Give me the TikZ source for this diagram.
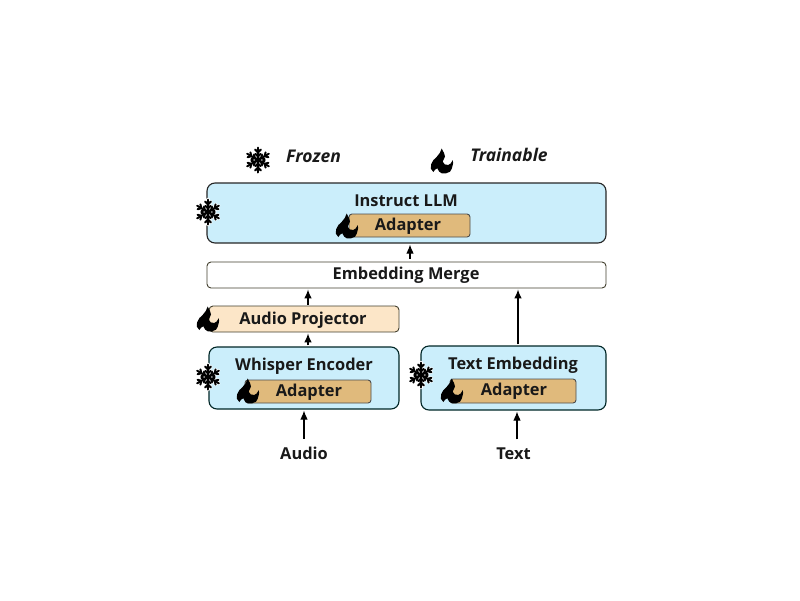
\documentclass[tikz,border=0pt]{standalone}
\usepackage{fontspec}
\setmainfont{Open Sans}
\usetikzlibrary{arrows.meta}
\definecolor{iceblue}{HTML}{CBEEFB}
\definecolor{adaptertan}{HTML}{E0BA7C}
\definecolor{peach}{HTML}{FCE6C8}
\tikzset{
  panel/.style={draw=#1, line width=1.1pt, rounded corners=8pt, inner sep=0pt, minimum width=0pt},
  llmbox/.style={panel=black!85, fill=iceblue},
  bluebox/.style={panel=black!70!teal, fill=iceblue},
  adapterbox/.style={draw=black!70, line width=0.9pt, fill=adaptertan, rounded corners=3pt, inner sep=0pt},
  mergebox/.style={draw=black!70!olive, line width=0.9pt, fill=white, rounded corners=4pt, inner sep=0pt},
  projbox/.style={draw=black!70!olive, line width=0.9pt, fill=peach, rounded corners=4pt, inner sep=0pt},
  lbl/.style={font=\fontsize{16.4}{18}\selectfont\bfseries, text=black!90, inner sep=0pt},
  legendlbl/.style={font=\fontsize{17.5}{18}\selectfont\bfseries\itshape, text=black!90, inner sep=0pt},
  flow/.style={-{Latex[length=9pt,width=7.5pt]}, line width=1.1pt, black},
  pics/snowflake/.style={code={
    \foreach \w/\c in {3.4/white,2/black}{
    \foreach \a in {30,90,...,330}{
      \begin{scope}[rotate=\a]
        \draw[line width=\w pt, \c, line cap=round] (0,0) -- (12.5,0);
        \draw[line width=\w pt, \c, line cap=round, line join=round] (6.2,-2.6) -- (3.5,0) -- (6.2,2.6);
        \draw[line width=\w pt, \c, line cap=round, line join=round] (10.4,-2.8) -- (7.6,0) -- (10.4,2.8);
      \end{scope}
    }}
    \fill[black] (0,0) circle (3);
  }},
  pics/flame/.style={code={
    \fill[black]
      (-0.3,-12.5) .. controls (1,-9) and (3.5,-7) .. (3,-4.3)
      .. controls (2.7,-2) and (0.5,-1) .. (0.7,0.7)
      .. controls (1,3) and (4,4.5) .. (6.3,4)
      .. controls (8,3.5) and (9.5,2) .. (10.7,-0.8)
      .. controls (11.5,1) and (11,3) .. (10.7,4)
      .. controls (10.3,6.5) and (9.5,9) .. (8,10.7)
      .. controls (5.5,12.5) and (2,13) .. (-0.3,12.3)
      .. controls (-2.5,11.5) and (-3.5,10) .. (-4.7,7.3)
      .. controls (-6,7.5) and (-7.5,9) .. (-8.7,11)
      .. controls (-11,9.5) and (-11.8,6.5) .. (-11,3.5)
      .. controls (-10.2,0) and (-7.5,-2) .. (-5,-4.5)
      .. controls (-3,-6.5) and (-1,-9.5) .. (-0.3,-12.5) -- cycle;
  }},
}
\begin{document}
\begin{tikzpicture}[x=1pt,y=-1pt]
\useasboundingbox (0,0) rectangle (800,600);
% boxes
\node[llmbox, minimum width=399pt, minimum height=60pt] (llm) at (406.5,213) {};
\node[adapterbox, minimum width=121pt, minimum height=23pt] (llmad) at (409.5,225.5) {};
\node[mergebox, minimum width=399pt, minimum height=26pt] (merge) at (406.5,275) {};
\node[projbox, minimum width=190pt, minimum height=26pt] (proj) at (304,319) {};
\node[bluebox, minimum width=190pt, minimum height=62pt] (whisper) at (304,378) {};
\node[adapterbox, minimum width=126pt, minimum height=23pt] (whad) at (308,391.5) {};
\node[bluebox, minimum width=185pt, minimum height=64pt] (textemb) at (513.5,378) {};
\node[adapterbox, minimum width=126pt, minimum height=24pt] (txad) at (513,391) {};
% labels
\node[lbl] (llmt) at (406,201) {Instruct LLM};
\node[lbl] (llmadt) at (408,226.5) {Adapter};
\node[lbl] (merget) at (406,275.5) {Embedding Merge};
\node[lbl] (projt) at (303,320.5) {Audio Projector};
\node[lbl] (wht) at (304,366) {Whisper Encoder};
\node[lbl] (whadt) at (309,392.5) {Adapter};
\node[lbl] (txt) at (513,365) {Text Embedding};
\node[lbl] (txadt) at (514,391.5) {Adapter};
\node[lbl] (audio) at (304,453.5) {Audio};
\node[lbl] (text) at (513.5,453.5) {Text};
\node[legendlbl] (frozen) at (313.5,156) {Frozen};
\node[legendlbl] (trainable) at (509,155) {Trainable};
% icons
\pic at (258,160) {snowflake};
\pic at (208,212) {snowflake};
\pic at (208,377) {snowflake};
\pic at (421,375) {snowflake};
\pic at (442,161) {flame};
\pic at (347,226) {flame};
\pic at (208,319) {flame};
\pic at (248,391) {flame};
\pic at (452,391) {flame};
% connectors
\coordinate (xa) at (308,0);
\coordinate (xb) at (304,0);
\coordinate (xc) at (518,0);
\coordinate (xd) at (517,0);
\coordinate (xe) at (410,0);
\draw[flow, shorten <=3pt, shorten >=1pt] (merge.north -| xe) -- (llm.south -| xe);
\draw[flow, shorten <=1pt, shorten >=1pt] (proj.north -| xa) -- (merge.south -| xa);
\draw[flow, shorten <=1pt, shorten >=1pt] (whisper.north -| xa) -- (proj.south -| xa);
\draw[flow, shorten <=1pt, shorten >=1pt] (textemb.north -| xc) -- (merge.south -| xc);
\draw[flow, shorten <=8pt, shorten >=1pt] (audio.north -| xb) -- (whisper.south -| xb);
\draw[flow, shorten <=8pt, shorten >=1pt] (text.north -| xd) -- (textemb.south -| xd);
\end{tikzpicture}
\end{document}
